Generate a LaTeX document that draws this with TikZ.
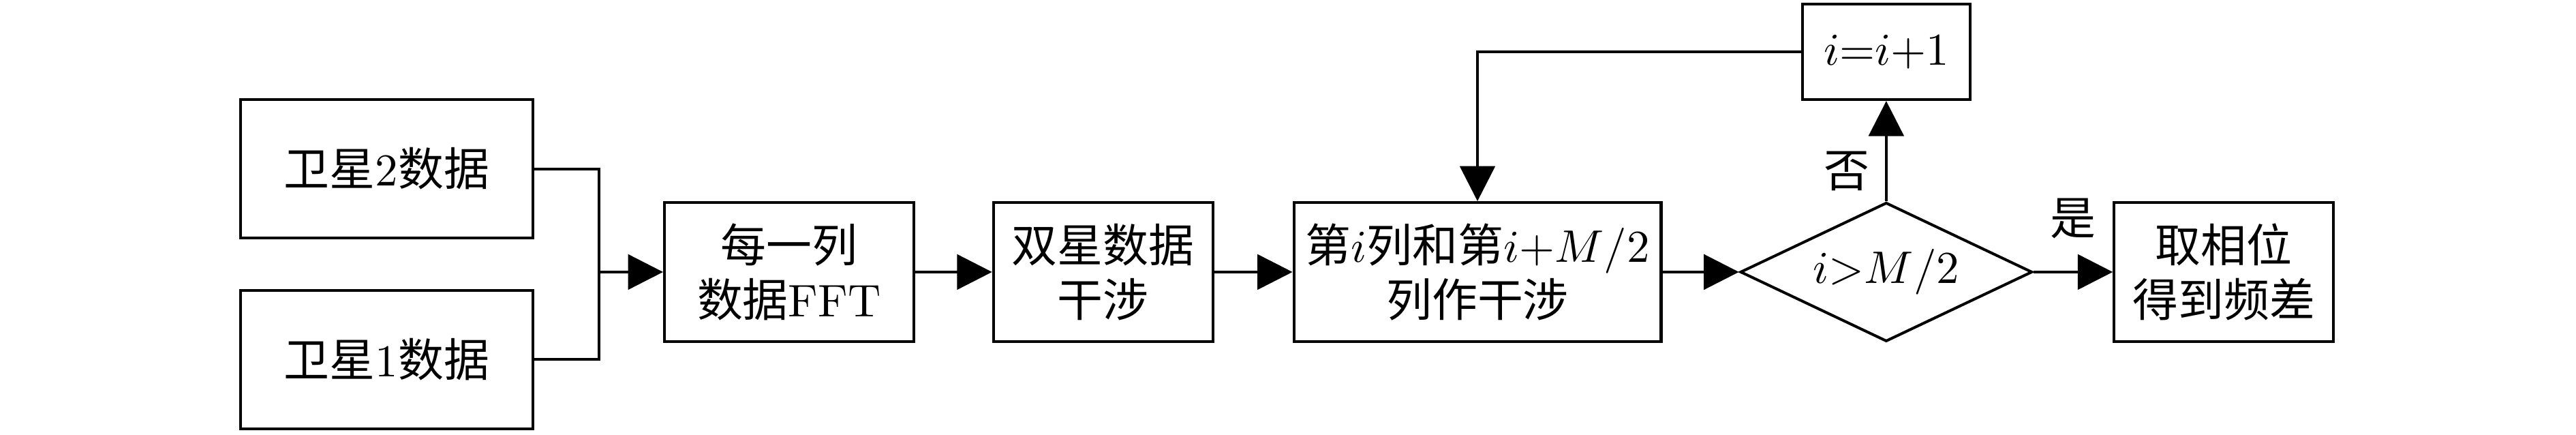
\documentclass[tikz,border=0pt]{standalone}
\usepackage{fontspec}
\newfontfamily\zhfont{Noto Sans CJK SC}
\usetikzlibrary{shapes.geometric,arrows.meta}
\begin{document}
\begin{tikzpicture}[semithick, 
		>={Triangle[length=2.7mm,width=2.7mm]},
		block/.style={rectangle,draw,font=\zhfont,align=center,minimum height=1.07cm,inner sep=0pt},
		judge/.style={diamond,draw,aspect=2.1,minimum width=2.25cm,minimum height=1.07cm,inner sep=0pt},
		tag/.style={font=\zhfont}
		]
	\useasboundingbox (0,0) rectangle (19.85,-3.35);
	\node [block,minimum width=2.25cm] (sat2) at (2.98,-1.30) {卫星\textrm{2}数据};
	\node [block,minimum width=2.25cm] (sat1) at (2.98,-2.77) {卫星\textrm{1}数据};
	\node [block,minimum width=1.92cm] (fft) at (6.08,-2.095) {每一列\\数据\textrm{FFT}};
	\node [block,minimum width=1.69cm] (cross) at (8.50,-2.095) {双星数据\\干涉};
	\node [block,minimum width=2.83cm] (pair) at (11.385,-2.095) {第$i$列和第$i{+}M/2$\\列作干涉};
	\node [judge] (test) at (14.535,-2.095) {$i{>}M/2$};
	\node [block,minimum width=1.29cm,minimum height=0.735cm] (inc) at (14.535,-0.40) {$i{=}i{+}1$};
	\node [block,minimum width=1.69cm] (result) at (17.136,-2.095) {取相位\\得到频差};
	\coordinate (join) at (4.615,-2.095);
	\draw (sat2.east) -| (join);
	\draw (sat1.east) -| (join);
	\draw [->] (join) -- (fft);
	\draw [->] (fft) -- (cross);
	\draw [->] (cross) -- (pair);
	\draw [->] (pair) -- (test);
	\draw [->] (test) -- node [tag,pos=0.3,left] {否} (inc);
	\draw [->] (test) -- node [tag,above=1.3mm] {是} (result);
	\draw [->] (inc.west) -| (pair.north);
\end{tikzpicture}
\end{document}
